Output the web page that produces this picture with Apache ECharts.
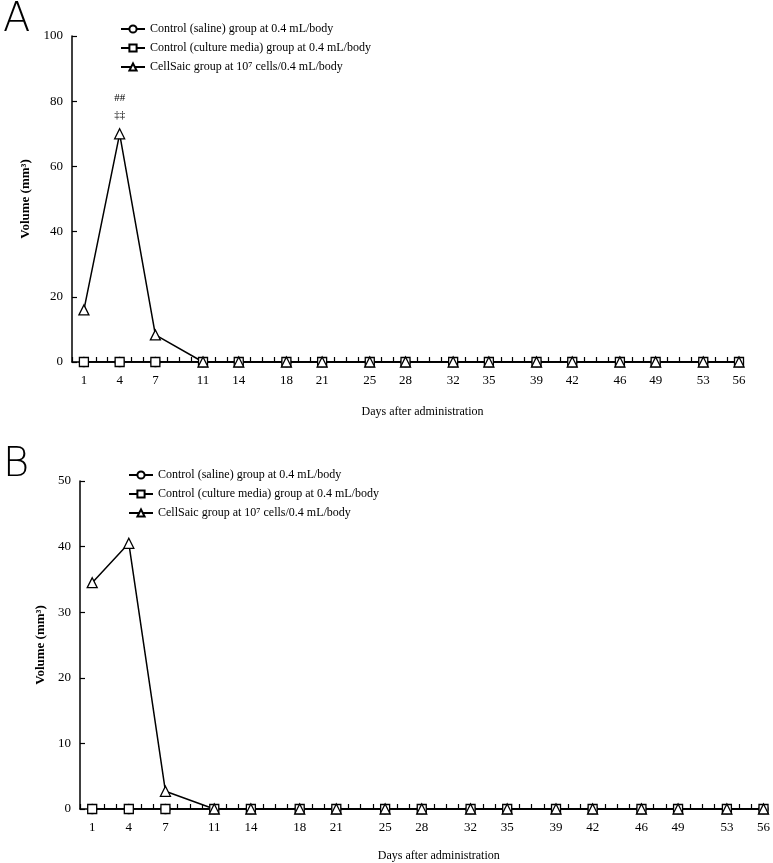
<!DOCTYPE html>
<html><head><meta charset="utf-8">
<script src="https://cdn.jsdelivr.net/npm/echarts@6/dist/echarts.min.js"></script>
<style>html,body{margin:0;padding:0;background:#fff}#c{width:773px;height:863px}</style>
</head><body><div id="c"></div>
<script>
const days = [1,4,7,11,14,18,21,25,28,32,35,39,42,46,49,53,56];
const seriesNames = ['Control (saline) group at 0.4 mL/body','Control (culture media) group at 0.4 mL/body','CellSaic group at 10\u2077 cells/0.4 mL/body'];
const A_saline   = [0,0,0,0,0,0,0,0,0,0,0,0,0,0,0,0,0];
const A_media    = [0,0,0,0,0,0,0,0,0,0,0,0,0,0,0,0,0];
const A_cellsaic = [16,70,8.3,0,0,0,0,0,0,0,0,0,0,0,0,0,0];
const B_saline   = [0,0,0,0,0,0,0,0,0,0,0,0,0,0,0,0,0];
const B_media    = [0,0,0,0,0,0,0,0,0,0,0,0,0,0,0,0,0];
const B_cellsaic = [34.5,40.5,2.7,0,0,0,0,0,0,0,0,0,0,0,0,0,0];
const A_yTicks = [0,20,40,60,80,100];
const B_yTicks = [0,10,20,30,40,50];
const annotationA = '##\n\u2021\u2021';

const font = 'Liberation Serif';
const pair = (vals) => days.map((d,i)=>[d, vals[i]]);
function xAxis(gi){
  return {type:'value', gridIndex:gi, min:0, max:56, interval:1,
    name:'Days after administration', nameLocation:'middle', nameGap: gi===0?44:41,
    nameTextStyle:{fontFamily:font, fontSize:12, color:'#000', padding:[0,0,0,34]},
    axisLine:{onZero:true, lineStyle:{color:'#000', width:1.5}},
    axisTick:{inside:true, length:5, lineStyle:{color:'#000', width:1.2}},
    axisLabel:{fontFamily:font, fontSize:13, color:'#000', margin:12,
      formatter:(v)=> days.includes(v) ? String(v) : ''},
    splitLine:{show:false}};
}
function yAxis(gi, ticks, gap){
  return {type:'value', gridIndex:gi, min:ticks[0], max:ticks[ticks.length-1], interval:ticks[1]-ticks[0],
    name:'Volume (mm\u00b3)', nameLocation:'middle', nameRotate:90, nameGap:gap,
    nameTextStyle:{fontFamily:font, fontSize:13, color:'#000', fontWeight:'bold'},
    axisLine:{show:true, lineStyle:{color:'#000', width:1.5}},
    axisTick:{show:true, inside:true, length:5, lineStyle:{color:'#000', width:1.2}},
    axisLabel:{fontFamily:font, fontSize:13, color:'#000', margin:9},
    splitLine:{show:false}};
}
function ser(name, gi, vals, symbol, extra){
  return Object.assign({type:'line', name:name, xAxisIndex:gi, yAxisIndex:gi,
    data:pair(vals), symbol:symbol, symbolSize: symbol==='triangle'?10:9, showAllSymbol:true,
    lineStyle:{color:'#000', width:1.5}, itemStyle:{color:'#fff', borderColor:'#000', borderWidth:1.3},
    emphasis:{disabled:true}, animation:false}, extra||{});
}
const aTri = pair(A_cellsaic).map((p,i)=> i===1 ? {value:p, label:{show:true, position:'top', distance:5,
  formatter:annotationA, fontFamily:font, fontSize:11, lineHeight:17, color:'#000'}} : p);

const legendBase = {orient:'vertical', data:seriesNames, itemWidth:24, itemHeight:9, itemGap:7,
  textStyle:{fontFamily:font, fontSize:12, color:'#000'}, selectedMode:false, inactiveColor:'#000'};

const option = {
  backgroundColor:'#fff',
  animation:false,
  title:[
    {text:'A', left:-2, top:-4, textStyle:{fontFamily:'DejaVu Sans', fontWeight:'lighter', fontSize:40, color:'#000'}},
    {text:'B', left:-2, top:441, textStyle:{fontFamily:'DejaVu Sans', fontWeight:'lighter', fontSize:40, color:'#000'}}
  ],
  legend:[
    Object.assign({left:115, top:18}, legendBase),
    Object.assign({left:123, top:464}, legendBase)
  ],
  grid:[
    {left:72, right:34, top:36, bottom:501},
    {left:80, right:8, top:481, bottom:52}
  ],
  xAxis:[xAxis(0), xAxis(1)],
  yAxis:[yAxis(0, A_yTicks, 27), yAxis(1, B_yTicks, 31)],
  series:[
    ser(seriesNames[0], 0, A_saline, 'circle'),
    ser(seriesNames[1], 0, A_media, 'rect'),
    Object.assign(ser(seriesNames[2], 0, A_cellsaic, 'triangle'), {data:aTri}),
    ser(seriesNames[0], 1, B_saline, 'circle'),
    ser(seriesNames[1], 1, B_media, 'rect'),
    ser(seriesNames[2], 1, B_cellsaic, 'triangle')
  ]
};
const chart = echarts.init(document.getElementById('c'), null, {renderer:'canvas'});
chart.setOption(option);
</script></body></html>
